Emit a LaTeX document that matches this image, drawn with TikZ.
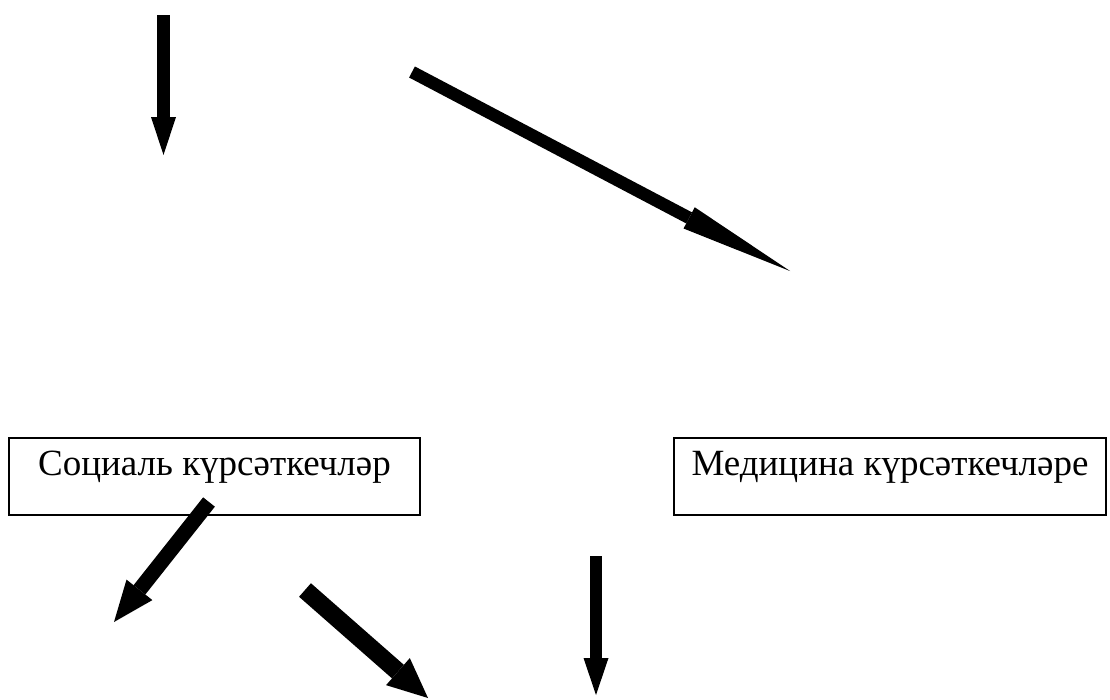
\documentclass[tikz,border=0pt]{standalone}
\usepackage{fontspec}
\setmainfont{Liberation Serif}
\usetikzlibrary{arrows.meta, positioning}

\begin{document}
\begin{tikzpicture}[x=1pt, y=-1pt,
    box/.style={draw, line width=1.2pt, inner sep=0pt, text height=37pt, text depth=40pt,
      font=\fontsize{37}{44}\selectfont},
    pointer/.style n args={3}{line width=#1,
      -{Triangle[length=#2, width=#3, line width=0pt]}}]
  \useasboundingbox (0,0) rectangle (1110,699);

  % boxes
  \node[box, minimum width=411pt] (social) at (214.5,476.5) {Социаль күрсәткечләр};
  \node[box, minimum width=432pt] (medical) at (890,476.5) {Медицина күрсәткечләре};

  % free ends of the arrows
  \coordinate (topA) at (163.5,15);
  \coordinate (topAend) at (163.5,155);
  \coordinate (topB) at (412,72);
  \coordinate (topBend) at (790,271);
  \coordinate (socA) at (209,502);
  \coordinate (socAend) at (114,622);
  \coordinate (socB) at (305,590);
  \coordinate (socBend) at (428,698);
  \coordinate (midA) at (596,556);
  \coordinate (midAend) at (596,695);

  \draw[pointer={13pt}{38pt}{25pt}] (topA) -- (topAend);
  \draw[pointer={12.5pt}{114pt}{24pt}] (topB) -- (topBend);
  \draw[pointer={15pt}{41pt}{33pt}] (socA) -- (socAend);
  \draw[pointer={18pt}{40pt}{36pt}] (socB) -- (socBend);
  \draw[pointer={12.5pt}{37pt}{25pt}] (midA) -- (midAend);
\end{tikzpicture}
\end{document}
